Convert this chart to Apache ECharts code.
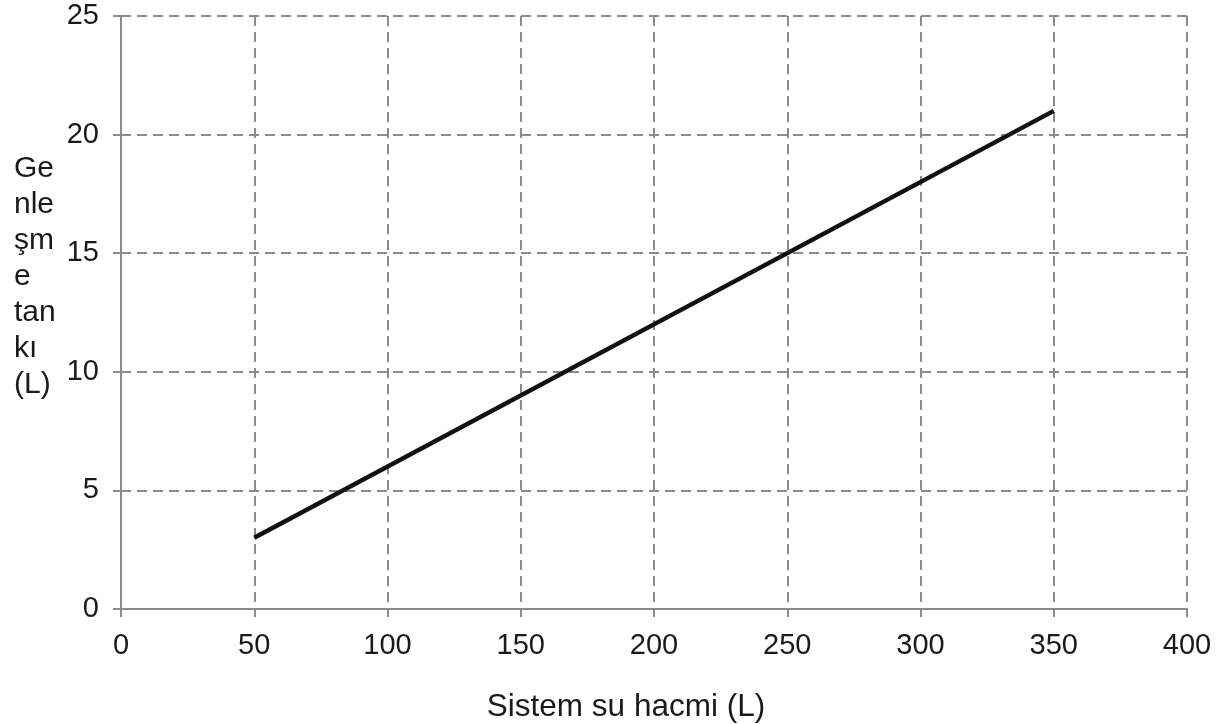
<!DOCTYPE html>
<html>
<head>
<meta charset="utf-8">
<style>
  html, body { margin: 0; padding: 0; background: #fff; }
  #chart { width: 1223px; height: 724px; }
</style>
<script src="https://cdn.jsdelivr.net/npm/echarts@6/dist/echarts.min.js"></script>
</head>
<body>
<div id="chart"></div>
<script>
// System water volume (L) vs. required expansion tank volume (L)
const systemVolume = [50, 350];
const tankVolume = [3, 21];
const xTicks = [0, 400, 50];   // min, max, interval
const yTicks = [0, 25, 5];
const xName = 'Sistem su hacmi (L)';
const yNameLines = ['Ge', 'nle', 'şm', 'e', 'tan', 'kı', '(L)'];

const FONT = '"Liberation Sans", Arial, sans-serif';
const GRID_GRAY = '#8c8c8c';

const chart = echarts.init(document.getElementById('chart'), null, { renderer: 'canvas' });

const axisCommon = {
  type: 'value',
  axisLine: { show: true, lineStyle: { color: GRID_GRAY, width: 2 } },
  axisTick: { show: true, inside: false, length: 8, lineStyle: { color: GRID_GRAY, width: 2 } },
  splitLine: { show: true, lineStyle: { color: GRID_GRAY, width: 2, type: [10, 6] } },
  axisLabel: { color: '#1a1a1a', fontSize: 29, fontFamily: FONT }
};

chart.setOption({
  animation: false,
  backgroundColor: '#ffffff',
  grid: { left: 121, right: 36, top: 16, bottom: 115, containLabel: false },
  xAxis: Object.assign({}, axisCommon, {
    min: xTicks[0], max: xTicks[1], interval: xTicks[2],
    axisLabel: Object.assign({}, axisCommon.axisLabel, { margin: 22 })
  }),
  yAxis: Object.assign({}, axisCommon, {
    min: yTicks[0], max: yTicks[1], interval: yTicks[2],
    axisLabel: Object.assign({}, axisCommon.axisLabel, { margin: 22, verticalAlign: 'middle', padding: [6, 0, 0, 0] })
  }),
  series: [{
    type: 'line',
    data: systemVolume.map((x, i) => [x, tankVolume[i]]),
    symbol: 'none',
    lineStyle: { color: '#111111', width: 4.5 },
    z: 5
  }],
  graphic: [
    {
      type: 'text',
      left: 14,
      top: 151,
      style: {
        text: yNameLines.join('\n'),
        font: '30px ' + FONT,
        lineHeight: 36,
        fill: '#1a1a1a',
        align: 'left'
      }
    },
    {
      type: 'text',
      x: 626,
      y: 707,
      style: {
        text: xName,
        font: '31.5px ' + FONT,
        fill: '#1a1a1a',
        align: 'center',
        verticalAlign: 'middle'
      }
    }
  ]
});
</script>
</body>
</html>
